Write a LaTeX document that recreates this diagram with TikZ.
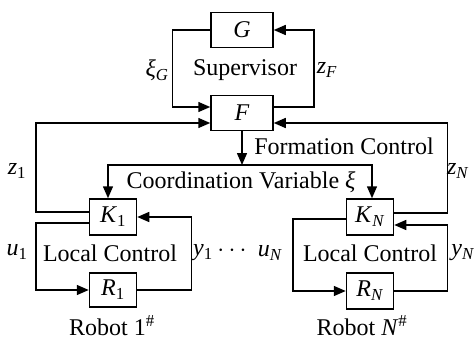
\documentclass[tikz,border=0pt]{standalone}
\usepackage{fontspec}
\setmainfont{Liberation Serif}
\usepackage{tikz}
\usetikzlibrary{arrows.meta}
\tikzstyle{block} = [rectangle, minimum width=47pt, minimum height=36pt, inner sep=0pt, text centered, draw=black, line width=1.5pt]
\tikzstyle{wide} = [block, minimum width=62pt, minimum height=35pt]
\tikzstyle{arrow} = [line width=1.5pt,->,>={Triangle[length=12pt,width=10pt]}]
\tikzstyle{line} = [line width=1.5pt]
\tikzstyle{lbl} = [inner sep=0pt]
\newcommand{\var}[2]{\textit{#1}\textsubscript{#2}}

\begin{document}
\begin{tikzpicture}[x=1pt, y=-1pt, font=\fontsize{24}{28}\selectfont]
\useasboundingbox (0,0) rectangle (475,343);
% supervisor level
\node (G) [wide] at (242,30) {\textit{G}};
\node (F) [wide] at (242,113) {\textit{F}};
\coordinate (fork) at (242,165);
% robots
\node (K1) [block] at (113,217) {\var{K}{1}};
\node (R1) [block, minimum height=34pt] at (113,290) {\var{R}{1}};
\node (KN) [block] at (370,217) {\var{K}{\textit{N}}};
\node (RN) [block] at (370,291) {\var{R}{\textit{N}}};

% labels
\node (xiG) [lbl] at (157,70) {\var{ξ}{\textit{G}}};
\node (sup) [lbl] at (245,70) {Supervisor};
\node (zF) [lbl] at (327,70) {\var{z}{\textit{F}}};
\node (form) [lbl] at (344,146) {Formation Control};
\node (zOne) [lbl] at (17,171) {\var{z}{1}};
\node (zN) [lbl] at (458,171) {\var{z}{\textit{N}}};
\node (coord) [lbl] at (241,182) {Coordination Variable \textit{ξ}};
\node (uOne) [lbl] at (17,252) {\var{u}{1}};
\node (locOne) [lbl] at (110,253) {Local Control};
\node (yOne) [lbl] at (203,253) {\var{y}{1}};
\node (dots) [lbl] at (232,251) {$\cdots$};
\node (uN) [lbl] at (270,253) {\var{u}{\textit{N}}};
\node (locN) [lbl] at (370,253) {Local Control};
\node (yN) [lbl] at (463,253) {\var{y}{\textit{N}}};
\node (robOne) [lbl] at (112,326) {Robot 1\textsuperscript{\#}};
\node (robN) [lbl] at (362,326) {Robot \textit{N}\textsuperscript{\#}};

\draw [arrow] (G.west) -- ++(-38,0) |- ([yshift=6pt]F.west);
\draw [arrow] ([yshift=6pt]F.east) -- ++(40,0) |- (G.east);
\draw [arrow] (F.south) -- (fork);
\draw [arrow, <->] ([xshift=-5pt]K1.north) |- (fork) -| ([xshift=2pt]KN.north);
\draw [arrow] ([yshift=5pt]K1.west) -- ++(-53,0) |- ([yshift=-10pt]F.west);
\draw [arrow] ([yshift=4pt]KN.east) -- ++(53,0) |- ([yshift=-10pt]F.east);
\draw [arrow] ([yshift=-6pt]K1.west) -- ++(-53,0) |- (R1.west);
\draw [arrow] (R1.east) -- ++(54,0) |- (K1.east);
\draw [arrow] ([yshift=-2pt]KN.west) -- ++(-53,0) |- (RN.west);
\draw [arrow] (RN.east) -- ++(53,0) |- ([yshift=-8pt]KN.east);
\end{tikzpicture}
\end{document}
